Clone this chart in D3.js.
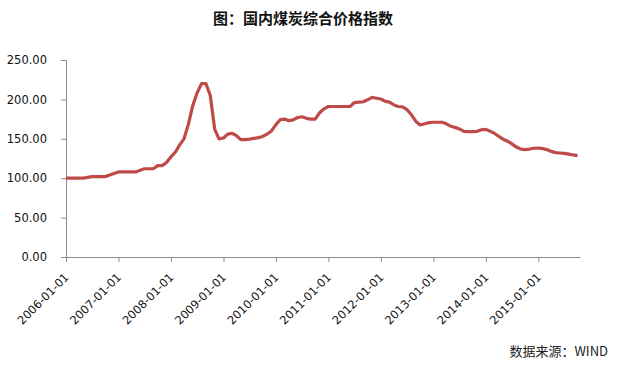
<!DOCTYPE html>
<html>
<head>
<meta charset="utf-8">
<script src="https://cdn.jsdelivr.net/npm/d3@7"></script>
<style>
    body { margin: 0; background: #fff; }
    svg { display: block; }
    .tick text { font-family: 'DejaVu Sans', Tahoma, sans-serif; }
</style>
</head>
<body>
<div id="chart"></div>
<script>
// monthly index values, 2006-01 .. 2015-10
const startMonth = '2006-01-01';
const values = [
    100, 100, 100, 100, 100, 101, 102, 102, 102, 102, 104, 106,
    108, 108, 108, 108, 108, 110, 112, 112, 112, 116, 116, 120,
    127, 133, 142, 150, 168, 192, 208, 220, 220, 205, 162, 150,
    151, 156, 157, 154, 149, 149, 149.5, 150.5, 151.5, 153, 156, 160,
    168, 174.5, 175, 173, 174, 177, 178, 176, 175, 175, 183, 188,
    191, 191, 191, 191, 191, 191, 196, 196.5, 197, 199.5, 202.5, 201.5,
    200.5, 197.5, 196.5, 193, 191, 190.5, 187, 180.5, 172, 167.5, 169, 170.5,
    171, 171, 171, 169, 166, 164.5, 162.5, 159.5, 159, 159, 159.5, 161.5,
    162, 159.5, 157, 153, 149.5, 147, 143.5, 139.5, 137, 136.3, 137, 138,
    138.3, 137.5, 136.3, 134, 132.5, 132, 131.5, 130.5, 129.5, 128.7
];
const yTicks = [0, 50, 100, 150, 200, 250];
const xTickLabels = ['2006-01-01', '2007-01-01', '2008-01-01', '2009-01-01', '2010-01-01',
    '2011-01-01', '2012-01-01', '2013-01-01', '2014-01-01', '2015-01-01'];
const axisEnd = '2015-10-18';

const width = 618, height = 366;
const margin = {top: 60, right: 38, bottom: 109, left: 66};
const parse = d3.timeParse('%Y-%m-%d');

const months = d3.timeMonth.range(parse(startMonth), d3.timeMonth.offset(parse(startMonth), values.length));
const data = months.map((m, i) => ({date: m, value: values[i]}));

const svg = d3.select('#chart')
    .append('svg')
    .attr('width', width)
    .attr('height', height);

const x = d3.scaleTime()
    .domain([parse(startMonth), parse(axisEnd)])
    .range([margin.left, width - margin.right]);
const y = d3.scaleLinear()
    .domain([0, 250])
    .range([height - margin.bottom, margin.top]);

const axisColor = '#8c8c8c';

// title
svg.append('text')
    .attr('x', 303)
    .attr('y', 24)
    .attr('text-anchor', 'middle')
    .style('font-family', "'Noto Sans CJK SC', sans-serif")
    .attr('font-weight', 'bold')
    .attr('font-size', 15)
    .attr('fill', '#111')
    .text('图：国内煤炭综合价格指数');

// y axis
const yAxis = svg.append('g')
    .attr('transform', `translate(${margin.left},0)`)
    .call(d3.axisLeft(y).tickValues(yTicks).tickSize(5).tickPadding(14).tickFormat(d3.format('.2f')));
yAxis.select('.domain').attr('stroke', axisColor);
yAxis.selectAll('.tick line').attr('stroke', axisColor);
yAxis.selectAll('.tick text')
    .attr('font-size', 11.5)
    .attr('fill', '#111');

// x axis
const xAxis = svg.append('g')
    .attr('transform', `translate(0,${height - margin.bottom})`)
    .call(d3.axisBottom(x).tickValues(xTickLabels.map(parse)).tickSizeInner(5).tickSizeOuter(0).tickFormat(d3.timeFormat('%Y-%m-%d')));
xAxis.select('.domain').attr('stroke', axisColor);
xAxis.selectAll('.tick line').attr('stroke', axisColor);
xAxis.selectAll('.tick text')
    .attr('font-size', 11.5)
    .attr('fill', '#111')
    .attr('text-anchor', 'end')
    .attr('y', 0)
    .attr('dy', 0)
    .attr('transform', 'translate(3,21) rotate(-45)');

// line
svg.append('path')
    .datum(data)
    .attr('fill', 'none')
    .attr('stroke', '#be4b48')
    .attr('stroke-width', 3.2)
    .attr('stroke-linejoin', 'round')
    .attr('d', d3.line().x((d) => x(d.date)).y((d) => y(d.value)));

// source note
svg.append('text')
    .attr('x', 608)
    .attr('y', 356)
    .attr('text-anchor', 'end')
    .style('font-family', "'Noto Sans CJK SC', sans-serif")
    .attr('font-size', 13)
    .attr('fill', '#222')
    .text('数据来源：WIND');
</script>
</body>
</html>
